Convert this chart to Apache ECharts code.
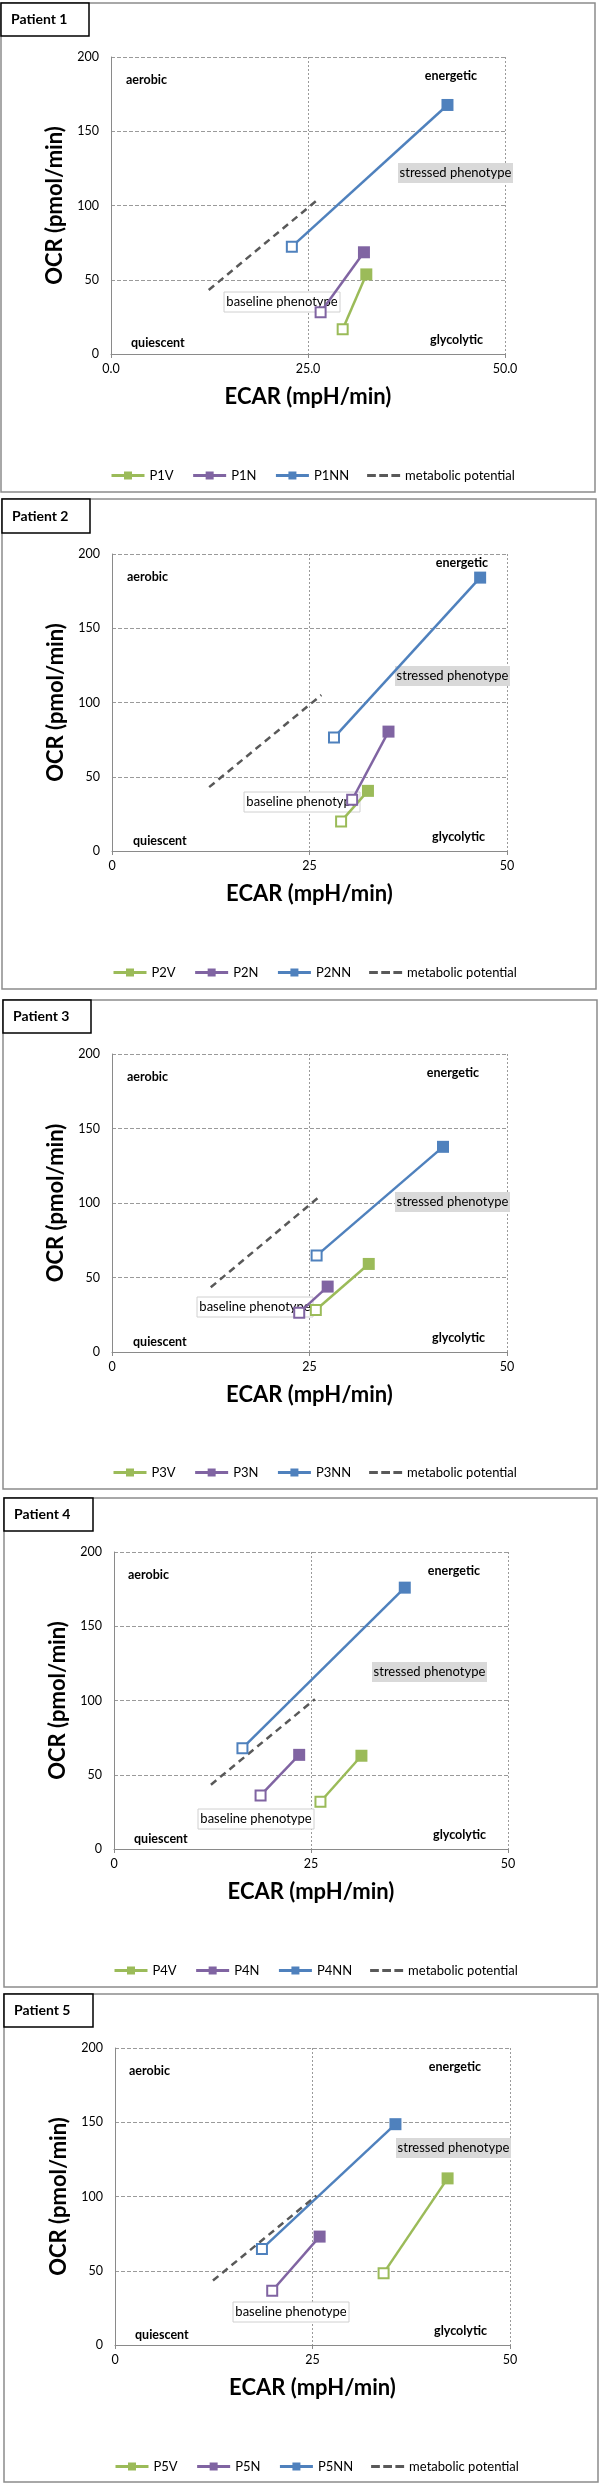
<!DOCTYPE html>
<html>
<head>
<meta charset="utf-8">
<script src="https://cdn.jsdelivr.net/npm/echarts@6/dist/echarts.min.js"></script>
<style>
html,body{margin:0;padding:0;background:#fff;}
#chart{width:600px;height:2484px;}
</style>
</head>
<body>
<div id="chart"></div>
<script>
// ---------- data ----------
const patientTitles = ['Patient 1', 'Patient 2', 'Patient 3', 'Patient 4', 'Patient 5'];
const seriesSuffixes = ['V', 'N', 'NN'];
const metabolicName = 'metabolic potential';
const xTickLabelsFirst = ['0.0', '25.0', '50.0'];
const xTickLabelsOther = ['0', '25', '50'];
const yTickLabels = ['0', '50', '100', '150', '200'];
const xAxisTitle = 'ECAR (mpH/min)';
const yAxisTitle = 'OCR (pmol/min)';
const quadrantLabels = ['aerobic', 'energetic', 'quiescent', 'glycolytic'];
const boxLabels = ['stressed phenotype', 'baseline phenotype'];

// ECAR / OCR pairs: [start, end] for each patient
const vEcar  = [[29.4, 32.4], [29.0, 32.4], [25.8, 32.5], [26.2, 31.4], [34.0, 42.1]];
const vOcr   = [[16.6, 53.6], [19.9, 40.5], [28.2, 59.1], [31.8, 62.8], [48.4, 112.2]];
const nEcar  = [[26.6, 32.1], [30.4, 35.0], [23.7, 27.3], [18.6, 23.5], [19.9, 25.9]];
const nOcr   = [[28.1, 68.5], [34.5, 80.4], [26.4, 43.9], [36.1, 63.4], [36.5, 73.0]];
const nnEcar = [[22.95, 42.7], [28.1, 46.6], [25.9, 41.9], [16.3, 36.9], [18.6, 35.5]];
const nnOcr  = [[72.3, 167.7], [76.4, 184.1], [64.7, 137.7], [67.9, 176.0], [64.7, 148.7]];
const mpEcar = [[12.4, 26.3], [12.3, 26.5], [12.5, 26.1], [12.3, 25.5], [12.4, 25.5]];
const mpOcr  = [[43.1, 104.2], [43.0, 105.0], [43.4, 103.6], [43.3, 100.9], [43.4, 100.6]];

// ---------- layout / style ----------
const FONT = 'Lato, "Open Sans", sans-serif';
const colors = ['#9BBB59', '#8064A2', '#4F81BD'];
const mpColor = '#595959';
const dashIcon = 'path://M0,0h9v3h-9z M12.5,0h9v3h-9z M25,0h9v3h-9z';
const panels = [
  {box: [1, 3, 594, 489],    title: [1, 3, 88, 33],    plot: [111, 57, 394, 297],   legend: [105, 472]},
  {box: [2, 499, 594, 490],  title: [2, 499, 88, 34],  plot: [112, 554, 395, 297],  legend: [107, 969]},
  {box: [3, 1000, 594, 489], title: [3, 1000, 88, 33], plot: [112, 1054, 395, 298], legend: [107, 1469]},
  {box: [4, 1498, 593, 489], title: [4, 1498, 89, 33], plot: [114, 1552, 394, 297], legend: [108, 1967]},
  {box: [4, 1994, 594, 488], title: [4, 1994, 89, 33], plot: [115, 2048, 395, 297], legend: [109, 2463]}
];
// annotation offsets relative to plot top-left
const annos = [
  {stressed: [287, 106], baseline: [113, 235], aerobic: [15, 23], energetic: [366, 19], quiescent: [20, 286], glycolytic: [372, 283]},
  {stressed: [283, 112], baseline: [132, 238], aerobic: [15, 23], energetic: [376, 9],  quiescent: [21, 287], glycolytic: [373, 283]},
  {stressed: [283, 138], baseline: [85, 243],  aerobic: [15, 23], energetic: [367, 19], quiescent: [21, 288], glycolytic: [373, 284]},
  {stressed: [258, 110], baseline: [84, 257],  aerobic: [14, 23], energetic: [366, 19], quiescent: [20, 287], glycolytic: [372, 283]},
  {stressed: [281, 90],  baseline: [118, 254], aerobic: [14, 23], energetic: [366, 19], quiescent: [20, 287], glycolytic: [372, 283]}
];

const grids = [], xAxes = [], yAxes = [], series = [], legends = [], graphics = [];

function pairData(ex, oc, color) {
  return [
    {value: [ex[0], oc[0]], symbolSize: 10, itemStyle: {color: '#fff', borderColor: color, borderWidth: 2}},
    {value: [ex[1], oc[1]], symbolSize: 12, itemStyle: {color: color}}
  ];
}

panels.forEach((p, i) => {
  const [gl, gt, gw, gh] = p.plot;
  grids.push({left: gl, top: gt, width: gw, height: gh, containLabel: false});
  const xl = i === 0 ? xTickLabelsFirst : xTickLabelsOther;
  xAxes.push({
    type: 'value', gridIndex: i, min: 0, max: 50, interval: 25,
    name: xAxisTitle, nameLocation: 'middle', nameGap: 32,
    nameTextStyle: {fontFamily: FONT, fontSize: 22, fontWeight: 'bold', color: '#000'},
    axisLine: {show: true, onZero: false, lineStyle: {color: '#8a8a8a', width: 1}},
    axisTick: {show: true, length: 4, lineStyle: {color: '#8a8a8a'}},
    axisLabel: {margin: 8, fontFamily: FONT, fontSize: 12.5, color: '#000', formatter: v => xl[Math.round(v / 25)]},
    splitLine: {show: true, lineStyle: {color: '#9a9a9a', type: [2, 2], width: 1}}
  });
  yAxes.push({
    type: 'value', gridIndex: i, min: 0, max: 200, interval: 50,
    name: yAxisTitle, nameLocation: 'middle', nameGap: 38,
    nameTextStyle: {fontFamily: FONT, fontSize: 22, fontWeight: 'bold', color: '#000'},
    axisLine: {show: true, onZero: false, lineStyle: {color: '#8a8a8a', width: 1}},
    axisTick: {show: false},
    axisLabel: {margin: 12, fontFamily: FONT, fontSize: 12.5, color: '#000', formatter: v => yTickLabels[Math.round(v / 50)]},
    splitLine: {show: true, lineStyle: {color: '#9a9a9a', type: [4, 2], width: 1}}
  });
  const pn = 'P' + (i + 1);
  const exs = [vEcar[i], nEcar[i], nnEcar[i]];
  const ocs = [vOcr[i], nOcr[i], nnOcr[i]];
  const legendData = [];
  seriesSuffixes.forEach((s, k) => {
    legendData.push({name: pn + s});
    series.push({
      type: 'line', name: pn + s, xAxisIndex: i, yAxisIndex: i,
      symbol: 'rect', symbolSize: 12, z: 3,
      lineStyle: {color: colors[k], width: 2.5},
      itemStyle: {color: colors[k]},
      data: pairData(exs[k], ocs[k], colors[k]),
      animation: false
    });
  });
  series.push({
    type: 'line', name: metabolicName, xAxisIndex: i, yAxisIndex: i,
    symbol: 'none', z: 3,
    lineStyle: {color: mpColor, width: 2.5, type: [7, 5]},
    itemStyle: {color: mpColor},
    data: [[mpEcar[i][0], mpOcr[i][0]], [mpEcar[i][1], mpOcr[i][1]]],
    animation: false
  });
  legendData.push({name: metabolicName, icon: dashIcon, itemStyle: {color: mpColor}});
  legends.push({
    left: p.legend[0], top: p.legend[1] - 8, orient: 'horizontal',
    itemWidth: 33, itemHeight: 10, itemGap: 18,
    lineStyle: {width: 3},
    textStyle: {fontFamily: FONT, fontSize: 13, color: '#000'},
    data: legendData,
    selectedMode: false
  });

  // panel frame
  const [bx, by, bw, bh] = p.box;
  graphics.push({type: 'rect', shape: {x: bx, y: by, width: bw, height: bh}, style: {fill: null, stroke: '#8c8c8c', lineWidth: 1.5}, z: 0});
  const [tx, ty, tw, th] = p.title;
  graphics.push({type: 'rect', shape: {x: tx, y: ty, width: tw, height: th}, style: {fill: '#fff', stroke: '#000', lineWidth: 1.5}, z: 1});
  graphics.push({type: 'text', x: tx + 10, y: ty + th / 2, style: {text: patientTitles[i], font: 'bold 14px ' + FONT, fill: '#000', textAlign: 'left', textVerticalAlign: 'middle'}, z: 2});

  const a = annos[i];
  const qfont = 'bold 12.5px ' + FONT;
  graphics.push({type: 'text', x: gl + a.aerobic[0], y: gt + a.aerobic[1], style: {text: quadrantLabels[0], font: qfont, fill: '#000', textAlign: 'left', textVerticalAlign: 'middle'}, z: 2});
  graphics.push({type: 'text', x: gl + a.energetic[0], y: gt + a.energetic[1], style: {text: quadrantLabels[1], font: qfont, fill: '#000', textAlign: 'right', textVerticalAlign: 'middle'}, z: 2});
  graphics.push({type: 'text', x: gl + a.quiescent[0], y: gt + a.quiescent[1], style: {text: quadrantLabels[2], font: qfont, fill: '#000', textAlign: 'left', textVerticalAlign: 'middle'}, z: 2});
  graphics.push({type: 'text', x: gl + a.glycolytic[0], y: gt + a.glycolytic[1], style: {text: quadrantLabels[3], font: qfont, fill: '#000', textAlign: 'right', textVerticalAlign: 'middle'}, z: 2});

  const sx = gl + a.stressed[0], sy = gt + a.stressed[1];
  graphics.push({type: 'rect', shape: {x: sx, y: sy, width: 115, height: 20}, style: {fill: '#d9d9d9', stroke: null}, z: 1});
  graphics.push({type: 'text', x: sx + 57.5, y: sy + 10, style: {text: boxLabels[0], font: '13px ' + FONT, fill: '#000', textAlign: 'center', textVerticalAlign: 'middle'}, z: 1});
  const bxx = gl + a.baseline[0], byy = gt + a.baseline[1];
  graphics.push({type: 'rect', shape: {x: bxx, y: byy, width: 116, height: 20}, style: {fill: '#fff', stroke: '#d0d0d0', lineWidth: 1}, z: 1});
  graphics.push({type: 'text', x: bxx + 58, y: byy + 10, style: {text: boxLabels[1], font: '13px ' + FONT, fill: '#000', textAlign: 'center', textVerticalAlign: 'middle'}, z: 1});
});

const chart = echarts.init(document.getElementById('chart'), null, {renderer: 'canvas'});
chart.setOption({
  animation: false,
  backgroundColor: '#fff',
  grid: grids,
  xAxis: xAxes,
  yAxis: yAxes,
  legend: legends,
  series: series,
  graphic: graphics
});
</script>
</body>
</html>
